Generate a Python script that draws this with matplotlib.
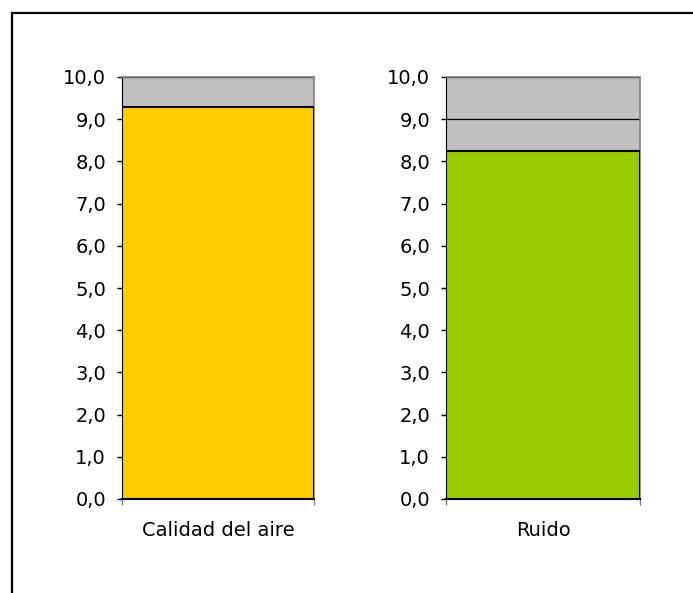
import matplotlib
matplotlib.use("Agg")
import matplotlib.pyplot as plt
from matplotlib.patches import Rectangle

categorias = ["Calidad del aire", "Ruido"]
valores = [9.28, 8.25]
colores = ["#FFCC00", "#99CC00"]
ticks_y = [0, 1, 2, 3, 4, 5, 6, 7, 8, 9, 10]
etiquetas_y = [f"{v:.1f}".replace(".", ",") for v in ticks_y]

W, H = 693, 593
fig = plt.figure(figsize=(W / 100, H / 100), dpi=100)
fig.patch.set_facecolor("white")

# marco exterior
fig.patches.append(
    Rectangle((12 / W, -0.1), 1.2, 1.1 - 13 / H, transform=fig.transFigure,
              fill=False, edgecolor="black", linewidth=1.6)
)

posiciones = [(122, 77, 192, 422), (446, 77, 194, 422)]

for (x0, y0, w, h), cat, val, col in zip(posiciones, categorias, valores, colores):
    ax = fig.add_axes([x0 / W, (H - y0 - h) / H, w / W, h / H])
    ax.set_facecolor("#C0C0C0")
    ax.set_axisbelow(True)
    ax.yaxis.grid(True, color="black", linewidth=0.9)
    ax.bar([0], [val], width=1.0, color=col, edgecolor="black", linewidth=1.5, zorder=3)
    ax.set_xlim(-0.5, 0.5)
    ax.set_ylim(0, 10)
    ax.set_yticks(ticks_y)
    ax.set_yticklabels(etiquetas_y, fontsize=14)
    ax.set_xticks([0])
    ax.set_xticklabels([cat], fontsize=14)
    ax.set_xticks([-0.5, 0.5], minor=True)
    ax.tick_params(axis="x", which="major", length=0, pad=16)
    ax.tick_params(axis="x", which="minor", length=4, width=1, color="#808080")
    ax.tick_params(axis="y", length=3.5, width=1, color="black", pad=8)
    for s in ["top", "right"]:
        ax.spines[s].set_color("#808080")
        ax.spines[s].set_linewidth(1.2)
    ax.spines["left"].set_color("black")
    ax.spines["bottom"].set_color("black")
    ax.spines["bottom"].set_linewidth(1.5)

fig.savefig("out.png", dpi=100)
